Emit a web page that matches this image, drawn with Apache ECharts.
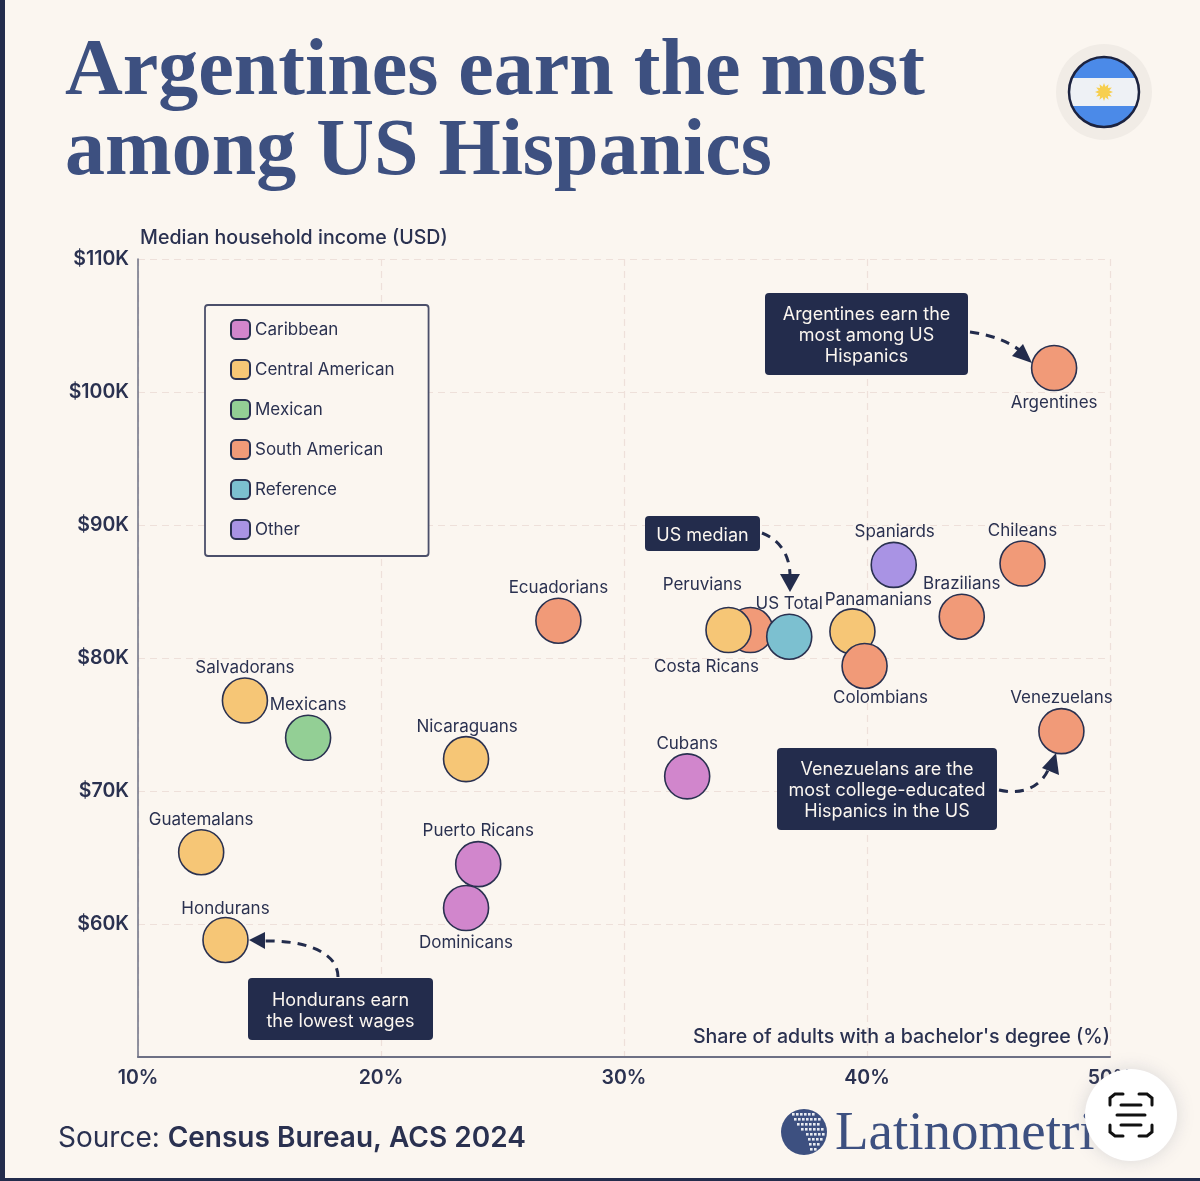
<!DOCTYPE html>
<html><head><meta charset="utf-8">
<style>html,body{margin:0;padding:0;background:#fbf6f0}#c{width:1200px;height:1181px}</style>
<script src="https://cdn.jsdelivr.net/npm/echarts@6/dist/echarts.min.js"></script>
</head><body><div id="c"></div>
<script>
const groups = ['Caribbean','Central American','Mexican','South American','Reference','Other'];
const groupColors = ['#d186cc','#f6c676','#93cf95','#f19a78','#7cc0d0','#a993e4'];
const names = ['Argentines','Chileans','Spaniards','Brazilians','Ecuadorians','Peruvians','Costa Ricans','US Total','Panamanians','Colombians','Venezuelans','Salvadorans','Mexicans','Nicaraguans','Cubans','Guatemalans','Puerto Ricans','Dominicans','Hondurans'];
const nameGroups = ['South American','South American','Other','South American','South American','South American','Central American','Reference','Central American','South American','South American','Central American','Mexican','Central American','Caribbean','Central American','Caribbean','Caribbean','Central American'];
const degreeShare = [47.7,46.4,41.1,43.9,27.3,35.2,34.3,36.8,39.4,39.9,48.0,14.4,17.0,23.5,32.6,12.6,24.0,23.5,13.6];
const medianIncome = [101.8,87.1,87.0,83.1,82.8,82.1,82.1,81.6,82.0,79.4,74.5,76.8,74.0,72.4,71.1,65.4,64.5,61.2,58.8];
const xTicks = [10,20,30,40,50];
const yTicks = [50,60,70,80,90,100,110];

// label placement, by name
const labelOffsets = {Argentines:[0,35],Chileans:[0,-33],Spaniards:[1,-33],Brazilians:[0,-33],Ecuadorians:[0,-33],Peruvians:[-48,-45],'Costa Ricans':[-22,37],'US Total':[0,-33],Panamanians:[26,-32],Colombians:[16,32],Venezuelans:[0,-33],Salvadorans:[0,-33],Mexicans:[0,-33],Nicaraguans:[1,-32],Cubans:[0,-32],Guatemalans:[0,-32],'Puerto Ricans':[0,-33],Dominicans:[0,35],Hondurans:[0,-31]};
const onTop = ['Costa Ricans'];

const INK='#2a3150', NAVY='#232c4c', BLUE='#3d5080', FONT='Inter, "Noto Sans", sans-serif';

function point(i){
  const o = labelOffsets[names[i]];
  return {name:names[i], value:[degreeShare[i],medianIncome[i]],
    label:{show:true,position:'inside',offset:o,formatter:names[i],color:INK,fontFamily:FONT,fontSize:17,fontWeight:400}};
}
function makeSeries(g, idx){
  return {type:'scatter',name:g,symbolSize:45,data:idx.map(point),
    itemStyle:{color:groupColors[groups.indexOf(g)],borderColor:INK,borderWidth:1.6,opacity:1},
    emphasis:{disabled:true},z:2};
}
const all = names.map((_,i)=>i);
const series = groups.map(g=>makeSeries(g,all.filter(i=>nameGroups[i]===g&&!onTop.includes(names[i]))));
series.push(makeSeries('Central American',all.filter(i=>onTop.includes(names[i]))));

function callout(x,y,w,h,lines){
  const els=[{type:'rect',shape:{x,y,width:w,height:h,r:4},style:{fill:NAVY},z:5}];
  const lh=21, y0=y+h/2-(lines.length-1)*lh/2+2;
  lines.forEach((t,i)=>els.push({type:'text',x:x+w/2,y:y0+i*lh,z:6,
    style:{text:t,fill:'#fbf6f0',font:'400 18px '+FONT,align:'center',verticalAlign:'middle'}}));
  return els;
}
function arrow(a,c1,c2,b,head){
  return [{type:'bezierCurve',z:5,shape:{x1:a[0],y1:a[1],cpx1:c1[0],cpy1:c1[1],cpx2:c2[0],cpy2:c2[1],x2:b[0],y2:b[1]},
    style:{stroke:NAVY,lineWidth:3,lineDash:[9,7],fill:null}},
    {type:'polygon',z:5,shape:{points:head},style:{fill:NAVY}}];
}
function sun(cx,cy,R,r,n){
  const p=[];for(let i=0;i<n*2;i++){const a=Math.PI*i/n,q=i%2?r:R;p.push([cx+q*Math.cos(a),cy+q*Math.sin(a)]);}
  return {type:'polygon',z:6,shape:{points:p},style:{fill:'#f7cf4f'}};
}
function logoDots(){
  const rows=[[1113,792,6],[1118,794,7],[1123,797,6],[1128,801,6],[1133,806,5],[1138,808,4],[1143,809,3],[1148,810,2]];
  const out=[];
  rows.forEach(r=>{for(let k=0;k<r[2];k++)out.push({type:'rect',z:6,shape:{x:r[1]+k*4,y:r[0],width:2.6,height:2.6},style:{fill:'#e9ecf2'}});});
  return out;
}
function lensIcon(){
  const s={stroke:'#111',lineWidth:3,fill:null,lineCap:'round'};
  const pl=p=>({type:'polyline',z:9,shape:{points:p},style:s});
  return [
    pl([[1110,1105],[1110,1098],[1115,1094],[1123,1094]]),
    pl([[1139,1094],[1147,1094],[1152,1098],[1152,1105]]),
    pl([[1152,1125],[1152,1132],[1147,1136],[1139,1136]]),
    pl([[1123,1136],[1115,1136],[1110,1132],[1110,1125]]),
    pl([[1121,1105],[1141,1105]]),
    pl([[1117,1115],[1145,1115]]),
    pl([[1121,1125],[1141,1125]])
  ];
}
const graphic = [
  {type:'rect',z:10,shape:{x:0,y:0,width:5,height:1181},style:{fill:NAVY}},
  {type:'rect',z:10,shape:{x:0,y:1178,width:1200,height:3},style:{fill:NAVY}},
  {type:'circle',z:4,shape:{cx:1104,cy:92,r:48},style:{fill:'#f1ece6'}},
  {type:'circle',z:5,shape:{cx:1104,cy:92,r:35},style:{stroke:'#1c2340',lineWidth:2.5,
    fill:{type:'linear',x:0,y:0,x2:0,y2:1,colorStops:[{offset:0,color:'#4b8ae8'},{offset:.31,color:'#4b8ae8'},{offset:.31,color:'#eef1f5'},{offset:.69,color:'#eef1f5'},{offset:.69,color:'#4b8ae8'},{offset:1,color:'#4b8ae8'}]}}},
  sun(1104,92,9,5.5,12),
  ...callout(765,293,203,82,['Argentines earn the','most among US','Hispanics']),
  ...arrow([970,332],[995,335],[1015,345],[1024,354],[[1032,363],[1012,356],[1023,344]]),
  ...callout(645,516,115,35,['US median']),
  ...arrow([762,533],[780,540],[790,555],[790,576],[[790,592],[780,574],[800,574]]),
  ...callout(777,748,220,82,['Venezuelans are the','most college-educated','Hispanics in the US']),
  ...arrow([999,790],[1025,796],[1042,785],[1049,768],[[1056,753],[1042,768],[1059,775]]),
  ...callout(248,978,185,62,['Hondurans earn','the lowest wages']),
  ...arrow([338,977],[338,950],[300,940],[264,941],[[249,940],[265,932],[265,949]]),
  {type:'text',x:58,y:1139,z:6,style:{text:'{a|Source: }{b|Census Bureau, ACS 2024}',verticalAlign:'middle',
    rich:{a:{font:'400 28px '+FONT,fill:INK},b:{font:'600 28px '+FONT,fill:INK}}}},
  {type:'circle',z:5,shape:{cx:804,cy:1132,r:23},style:{fill:BLUE}},
  ...logoDots(),
  {type:'text',x:835,y:1135,z:5,style:{text:'Latinometrics',fill:BLUE,font:'400 55px "Liberation Serif", serif',verticalAlign:'middle'}},
  {type:'circle',z:8,shape:{cx:1131,cy:1115,r:46},style:{fill:'#ffffff',shadowBlur:18,shadowColor:'rgba(120,120,140,.25)'}},
  ...lensIcon()
];

const chart = echarts.init(document.getElementById('c'),null,{renderer:'canvas'});
chart.setOption({
  animation:false,
  backgroundColor:'#fbf6f0',
  title:{text:'Argentines earn the most\namong US Hispanics',left:65,top:33,padding:0,
    textStyle:{fontFamily:'"Liberation Serif", serif',fontWeight:700,fontSize:80,lineHeight:80,color:BLUE}},
  legend:{show:true,data:groups,orient:'vertical',left:205,top:305,icon:'roundRect',itemWidth:19,itemHeight:19,itemGap:19,
    padding:[14,34,16,25],backgroundColor:'#fbf6f0',borderColor:'#4b4f6a',borderWidth:1.8,borderRadius:3,
    textStyle:{color:INK,fontFamily:FONT,fontSize:17,fontWeight:400},selectedMode:false,z:4},
  grid:{left:138,right:90,top:259,bottom:124,containLabel:false},
  xAxis:{type:'value',min:10,max:50,interval:10,
    name:"Share of adults with a bachelor's degree (%)",nameLocation:'end',nameGap:0,nameMoveOverlap:false,
    nameTextStyle:{align:'right',verticalAlign:'bottom',padding:[0,0,10,0],color:INK,fontFamily:FONT,fontSize:19.6,fontWeight:500},
    axisLine:{show:true,lineStyle:{color:'#6d7084',width:2}},axisTick:{show:false},
    axisLabel:{margin:11,color:INK,fontFamily:FONT,fontSize:19.5,fontWeight:600,formatter:v=>xTicks.includes(v)?v+'%':'',hideOverlap:false,showMaxLabel:true,showMinLabel:true},
    splitLine:{show:true,lineStyle:{color:'#eee0da',type:[7,5],width:1.2}}},
  yAxis:{type:'value',min:50,max:110,interval:10,
    name:'Median household income (USD)',nameLocation:'end',nameGap:11,nameMoveOverlap:false,
    nameTextStyle:{align:'left',padding:[0,0,0,2],color:INK,fontFamily:FONT,fontSize:19.6,fontWeight:500},
    axisLine:{show:true,lineStyle:{color:'#6d7084',width:1.5}},axisTick:{show:false},
    axisLabel:{margin:9,color:INK,fontFamily:FONT,fontSize:19.5,fontWeight:600,formatter:v=>(v===yTicks[0])?'':'$'+v+'K',showMaxLabel:true},
    splitLine:{show:true,lineStyle:{color:'#eee0da',type:[7,5],width:1.2}}},
  series,
  graphic
});
</script></body></html>
